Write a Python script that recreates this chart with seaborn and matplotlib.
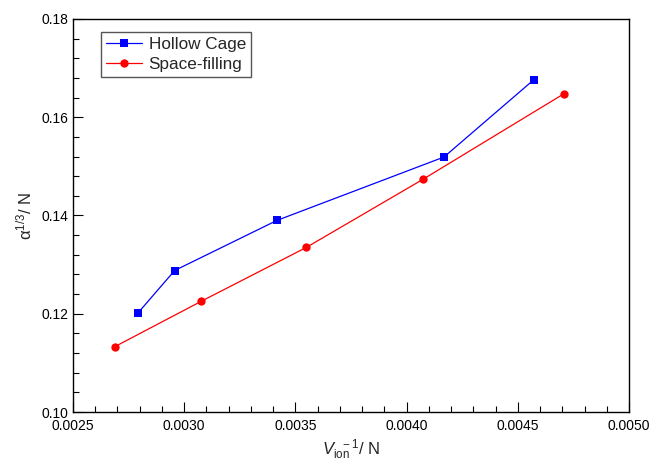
import matplotlib
matplotlib.use("Agg")
import matplotlib.pyplot as plt
import seaborn as sns
import pandas as pd
from matplotlib.ticker import MultipleLocator

# Data
hollow_x = [0.002791, 0.002957, 0.003417, 0.004168, 0.004571]
hollow_y = [0.1201, 0.1288, 0.1390, 0.1519, 0.1676]
space_x = [0.002688, 0.003075, 0.003549, 0.004075, 0.004708]
space_y = [0.1133, 0.1225, 0.1335, 0.1474, 0.1648]
series_names = ["Hollow Cage", "Space-filling"]

df = pd.DataFrame({
    "x": hollow_x + space_x,
    "y": hollow_y + space_y,
    "series": [series_names[0]] * len(hollow_x) + [series_names[1]] * len(space_x),
})

sns.set_style("ticks")
plt.rcParams["font.family"] = ["Liberation Sans", "DejaVu Sans"]
plt.rcParams["mathtext.fontset"] = "custom"
plt.rcParams["mathtext.rm"] = "Liberation Sans"
plt.rcParams["mathtext.it"] = "Liberation Sans:italic"
plt.rcParams["mathtext.sf"] = "Liberation Sans"

fig = plt.figure(figsize=(6.52, 4.62), dpi=100)
ax = fig.add_axes([73 / 652, 1 - 412 / 462, (629 - 73) / 652, (412 - 19) / 462])

sns.lineplot(data=df, x="x", y="y", hue="series", style="series",
             palette={series_names[0]: "#0000FF", series_names[1]: "#FF0000"},
             markers={series_names[0]: "s", series_names[1]: "o"},
             dashes=False, sort=False, ax=ax, linewidth=0.9,
             markersize=6, markeredgewidth=0, estimator=None)

ax.set_xlim(0.0025, 0.0050)
ax.set_ylim(0.10, 0.18)
ax.xaxis.set_major_locator(MultipleLocator(0.0005))
ax.xaxis.set_minor_locator(MultipleLocator(0.0001))
ax.yaxis.set_major_locator(MultipleLocator(0.02))
ax.yaxis.set_minor_locator(MultipleLocator(0.004))
ax.xaxis.set_major_formatter(matplotlib.ticker.FormatStrFormatter("%.4f"))
ax.yaxis.set_major_formatter(matplotlib.ticker.FormatStrFormatter("%.2f"))
ax.tick_params(which="both", direction="in", top=False, right=False,
               labelsize=10, colors="black", width=0.8)
ax.tick_params(axis="x", which="major", length=7, pad=5)
ax.tick_params(axis="y", which="major", length=7, pad=3)
ax.tick_params(which="minor", length=4)
for s in ax.spines.values():
    s.set_visible(True)
    s.set_linewidth(1.0)
    s.set_color("black")

ax.set_xlabel(r"$V_{\mathrm{ion}}^{\ \ -1}$/ N", fontsize=12, labelpad=3)
ax.set_ylabel(r"$\mathrm{α}^{1/3}$/ N", fontsize=12, labelpad=5)

handles, labels = ax.get_legend_handles_labels()
leg = ax.legend(handles, labels, loc="upper left", bbox_to_anchor=(0.05, 0.967),
                fontsize=12.3, frameon=True, fancybox=False, framealpha=1,
                edgecolor="#555555", handlelength=2.1, handletextpad=0.4,
                borderpad=0.3, labelspacing=0.3, borderaxespad=0)
leg.get_frame().set_linewidth(1.0)

fig.savefig("out.png", dpi=100)
